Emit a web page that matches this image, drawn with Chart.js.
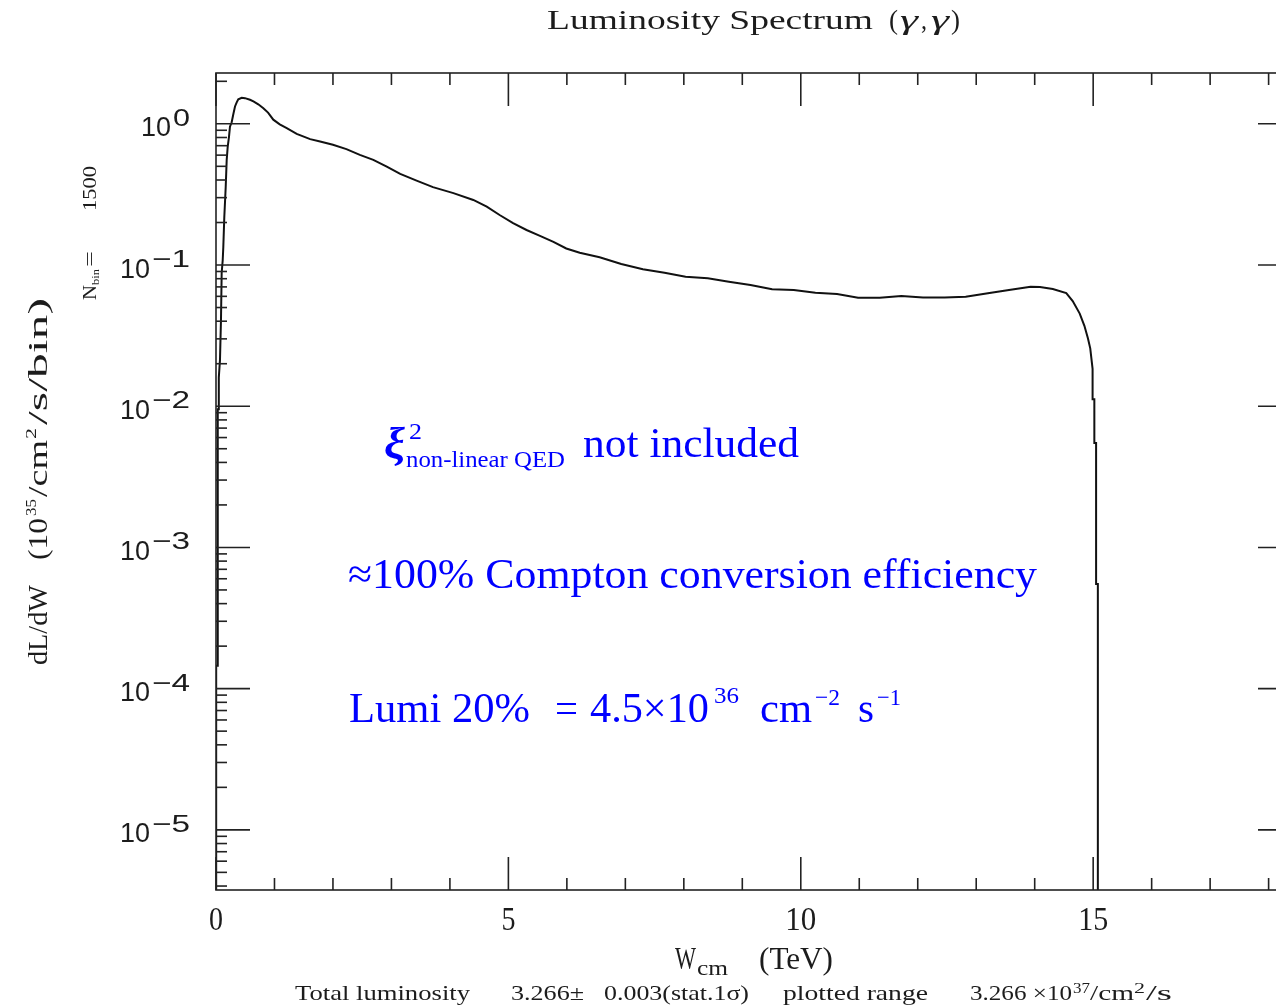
<!DOCTYPE html>
<html>
<head>
<meta charset="utf-8">
<script src="https://cdn.jsdelivr.net/npm/chart.js@4.4.1/dist/chart.umd.min.js"></script>
<style>
html,body{margin:0;padding:0;background:#fff;overflow:hidden;}
#wrap{width:1276px;height:1006px;overflow:hidden;}
canvas{display:block;}
</style>
</head>
<body>
<div id="wrap"><canvas id="chart" width="1300" height="1006" style="width:1300px;height:1006px"></canvas></div>
<script>
// W_cm (TeV) and dL/dW (10^35 /cm^2/s/bin); repeated x values are bin edges
const energy = [0.003, 0.003, 0.030, 0.030, 0.048, 0.048, 0.068, 0.085, 0.097, 0.115,
  0.125, 0.142, 0.166, 0.183, 0.200, 0.222, 0.239, 0.268, 0.296, 0.325,
  0.354, 0.381, 0.44, 0.496, 0.581, 0.64, 0.723, 0.81, 0.89, 0.98,
  1.09, 1.21, 1.38, 1.61, 1.78, 2.0, 2.23, 2.46, 2.69, 2.92,
  3.15, 3.43, 3.71, 4.06, 4.40, 4.63, 4.85, 5.08, 5.31, 5.54,
  5.77, 5.99, 6.22, 6.56, 6.93, 7.30, 7.67, 8.03, 8.41, 8.77,
  9.14, 9.51, 9.88, 10.25, 10.62, 10.98, 11.35, 11.72, 12.09, 12.46,
  12.82, 13.20, 13.56, 13.93, 14.09, 14.31, 14.54, 14.65, 14.77, 14.85,
  14.91, 14.95, 14.99, 14.99, 15.02, 15.02, 15.05, 15.05, 15.08, 15.08];
const dLdW = [1e-7, 1.45e-4, 1.45e-4, 0.0095, 0.0095, 0.016, 0.0212, 0.0407, 0.0878, 0.1085,
  0.134, 0.219, 0.357, 0.556, 0.687, 0.809, 0.953, 1.025, 1.17, 1.327,
  1.42, 1.49, 1.53, 1.52, 1.48, 1.44, 1.375, 1.29, 1.20, 1.07,
  0.99, 0.932, 0.849, 0.779, 0.749, 0.710, 0.662, 0.603, 0.556, 0.498,
  0.442, 0.396, 0.356, 0.323, 0.289, 0.259, 0.226, 0.198, 0.177, 0.161,
  0.146, 0.131, 0.122, 0.1135, 0.1017, 0.0933, 0.0881, 0.0826, 0.0805, 0.0762,
  0.0721, 0.0673, 0.0665, 0.0636, 0.0623, 0.0587, 0.0587, 0.0603, 0.0590, 0.0590,
  0.0596, 0.0630, 0.0665, 0.0702, 0.0698, 0.0676, 0.0633, 0.0556, 0.0453, 0.0371,
  0.0303, 0.0257, 0.0184, 0.0112, 0.0112, 0.0055, 0.0055, 0.00055, 0.00055, 1e-7];

const xMajor = [0, 5, 10, 15];
const xTickLabels = ['0', '5', '10', '15'];
const xTickWidths = [14, 14, 31, 30];
const yDecades = [0, -1, -2, -3, -4, -5];
const yTickExp = ['0', '\u22121', '\u22122', '\u22123', '\u22124', '\u22125'];

const ink = '#1c1c1c';
const blue = '#0000ff';
const serif = '"Liberation Serif", "Times New Roman", serif';
const sans = '"Liberation Sans", Arial, sans-serif';

// draw s with its left edge at x and baseline at y, squeezed/stretched to width w
function put(ctx, s, x, y, size, w, opt) {
  opt = opt || {};
  ctx.save();
  ctx.font = (opt.style || '') + ' ' + size + 'px ' + (opt.family || serif);
  ctx.fillStyle = opt.color || ink;
  ctx.textAlign = 'left';
  ctx.textBaseline = 'alphabetic';
  const m = ctx.measureText(s).width;
  ctx.translate(x, y);
  if (w) ctx.scale(w / m, 1);
  ctx.fillText(s, 0, 0);
  ctx.restore();
}

// text runs reading bottom-to-top; origin is the baseline point where the first run starts
function putUp(ctx, ox, oy, runs) {
  ctx.save();
  ctx.translate(ox, oy);
  ctx.rotate(-Math.PI / 2);
  runs.forEach(r => put(ctx, r[0], r[1], r[4] || 0, r[3], r[2] - r[1]));
  ctx.restore();
}

function seg(ctx, x1, y1, x2, y2) {
  ctx.beginPath();
  ctx.moveTo(x1, y1);
  ctx.lineTo(x2, y2);
  ctx.stroke();
}

const framePlugin = {
  id: 'frame',
  afterDraw(chart) {
    const ctx = chart.ctx, a = chart.chartArea;
    const xs = chart.scales.x, ys = chart.scales.y;
    ctx.save();
    ctx.strokeStyle = '#222';
    ctx.lineWidth = 1.6;
    ctx.strokeRect(a.left, a.top, a.right - a.left, a.bottom - a.top);

    // x ticks, every 1 TeV, long ones every 5
    for (let v = 0; v <= Math.floor(xs.max); v++) {
      const px = xs.getPixelForValue(v);
      const len = xMajor.includes(v) ? 33 : 12;
      seg(ctx, px, a.bottom, px, a.bottom - len);
      seg(ctx, px, a.top, px, a.top + len);
    }
    // y ticks on the log scale
    for (let d = -6; d <= 0; d++) {
      for (let m = 1; m <= 9; m++) {
        const v = m * Math.pow(10, d);
        if (v < ys.min || v > ys.max) continue;
        const py = ys.getPixelForValue(v);
        const len = m === 1 ? 34 : 11;
        seg(ctx, a.left, py, a.left + len, py);
        seg(ctx, a.right, py, a.right - len, py);
      }
    }
    ctx.restore();

    // y tick labels 10^n
    yDecades.forEach((d, i) => {
      const py = ys.getPixelForValue(Math.pow(10, d));
      const ew = d === 0 ? 17 : 38;
      const ex = 190 - ew;
      put(ctx, yTickExp[i], ex, py + 2, 24, ew, {family: sans});
      put(ctx, '10', ex - 32, py + 12.5, 27, 30, {family: sans});
    });

    // x tick labels
    xMajor.forEach((v, i) => {
      const px = xs.getPixelForValue(v);
      put(ctx, xTickLabels[i], px - xTickWidths[i] / 2, 930, 34, xTickWidths[i]);
    });

    // title
    put(ctx, 'Luminosity Spectrum', 547, 29, 28, 326);
    put(ctx, '(', 889, 29, 28, 9);
    put(ctx, '\u03b3', 900, 29, 28, 18, {style: 'italic'});
    put(ctx, ',', 921, 29, 28, 6);
    put(ctx, '\u03b3', 931, 29, 28, 18, {style: 'italic'});
    put(ctx, ')', 951, 29, 28, 9);

    // x axis title
    put(ctx, 'W', 675, 969, 32, 21);
    put(ctx, 'cm', 697, 975, 20, 31);
    put(ctx, '(TeV)', 759, 969, 32, 74);

    // y axis title and bin count
    putUp(ctx, 47, 665, [
      ['dL/dW', 0, 80, 27],
      ['(10', 105, 147, 27],
      ['35', 149, 166, 15, -11],
      ['/cm', 168, 225, 27],
      ['2', 226, 237, 15, -11],
      ['/s/bin)', 240, 367, 27]
    ]);
    putUp(ctx, 96, 300, [
      ['N', 0, 15, 18],
      ['bin', 15, 31, 11, 3],
      ['=', 33, 49, 18],
      ['1500', 89, 134, 18]
    ]);

    // footer
    put(ctx, 'Total luminosity', 295, 1000, 21, 175);
    put(ctx, '3.266\u00b1', 511, 1000, 21, 73);
    put(ctx, '0.003(stat.1\u03c3)', 604, 1000, 21, 145);
    put(ctx, 'plotted range', 783, 1000, 21, 145);
    put(ctx, '3.266 \u00d710', 970, 1000, 21, 102);
    put(ctx, '37', 1073, 993, 14, 17);
    put(ctx, '/cm', 1090, 1000, 21, 44);
    put(ctx, '2', 1134, 993, 14, 11);
    put(ctx, '/s', 1146, 1000, 21, 26);

    // notes
    const b = {color: blue};
    put(ctx, '\u03be', 384, 458, 44, 21, {color: blue, style: 'italic bold'});
    put(ctx, '2', 409, 439, 24, 13, b);
    put(ctx, 'non-linear QED', 406, 467, 24, 159, b);
    put(ctx, 'not included', 583, 457, 43, 216, b);
    put(ctx, '\u2248100% Compton conversion efficiency', 348, 588, 42, 689, b);
    put(ctx, 'Lumi 20%', 349, 722, 43, 181, b);
    put(ctx, '=', 555, 722, 43, 23, b);
    put(ctx, '4.5\u00d710', 590, 722, 43, 119, b);
    put(ctx, '36', 714, 703, 24, 25, b);
    put(ctx, 'cm', 760, 722, 43, 52, b);
    put(ctx, '\u22122', 815, 705, 24, 25, b);
    put(ctx, 's', 858, 722, 43, 16, b);
    put(ctx, '\u22121', 877, 705, 24, 24, b);
  }
};

const points = energy.map((w, i) => ({x: w, y: dLdW[i]}));

new Chart(document.getElementById('chart'), {
  type: 'line',
  data: {
    datasets: [{
      data: points,
      borderColor: '#111',
      borderWidth: 2,
      pointRadius: 0,
      tension: 0,
      fill: false
    }]
  },
  options: {
    responsive: false,
    animation: false,
    events: [],
    layout: {padding: {left: 216, top: 73, right: 8, bottom: 116}},
    plugins: {legend: {display: false}, tooltip: {enabled: false}},
    scales: {
      x: {type: 'linear', min: 0, max: 18.4, display: false},
      y: {type: 'logarithmic', min: 3.75e-6, max: 2.29, display: false}
    }
  },
  plugins: [framePlugin]
});
</script>
</body>
</html>
